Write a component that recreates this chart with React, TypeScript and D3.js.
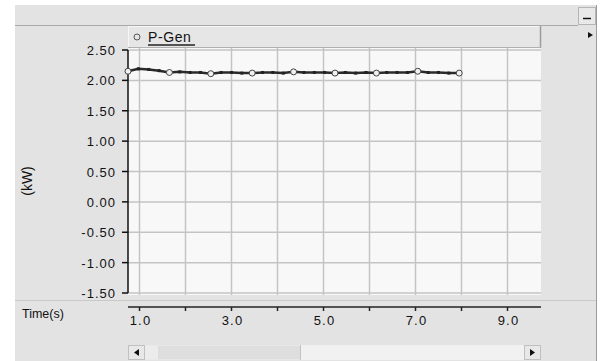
import * as d3 from 'd3';

// sampled P-Gen output (kW) against time (s)
const timeS = [
  0.75, 0.975, 1.2, 1.425, 1.65, 1.875, 2.1, 2.325, 2.55, 2.775, 3.0,
  3.225, 3.45, 3.675, 3.9, 4.125, 4.35, 4.575, 4.8, 5.025, 5.25, 5.475,
  5.7, 5.925, 6.15, 6.375, 6.6, 6.825, 7.05, 7.275, 7.5, 7.725, 7.95,
];
const pGen = [
  2.15, 2.19, 2.18, 2.16, 2.13, 2.14, 2.13, 2.13, 2.11, 2.13, 2.13,
  2.12, 2.12, 2.13, 2.13, 2.12, 2.14, 2.13, 2.13, 2.13, 2.12, 2.13,
  2.12, 2.13, 2.12, 2.13, 2.13, 2.13, 2.15, 2.13, 2.13, 2.12, 2.12,
];
const yTicks = [-1.5, -1.0, -0.5, 0, 0.5, 1.0, 1.5, 2.0, 2.5];
const xTicks = [1, 2, 3, 4, 5, 6, 7, 8, 9];
const xLabels = [1, 3, 5, 7, 9];
const seriesName = 'P-Gen';

const FONT = '"Liberation Sans", Arial, sans-serif';
// plain hyphen for negatives, like the original readout
const fmt = (spec: string) => (v: number) => d3.format(spec)(v).replace('\u2212', '-');

export default function App() {
  const plot = { left: 128, right: 541, top: 48, bottom: 295 };

  const x = d3.scaleLinear().domain([0.75, 9.75]).range([plot.left, plot.left + 414]);
  const y = d3.scaleLinear().domain([-1.5, 2.5]).range([293, 50]);

  const pts = timeS.map((t, i) => [t, pGen[i]] as [number, number]);
  const line = d3
    .line<[number, number]>()
    .x((d) => x(d[0]))
    .y((d) => y(d[1]));

  const axisY = 307;

  return (
    <svg
      width={600}
      height={361}
      style={{ position: 'absolute', left: 0, top: 0, fontFamily: FONT }}
    >
      <rect x={0} y={0} width={600} height={361} fill="#ffffff" />
      {/* panel */}
      <rect x={15} y={5} width={582} height={356} fill="#e3e3e3" />
      <line x1={596.5} x2={596.5} y1={5} y2={361} stroke="#9a9a9a" />
      <line x1={15} x2={578} y1={25.5} y2={25.5} stroke="#a9a9a9" />
      {/* minimize button */}
      <rect x={578.5} y={7.5} width={17} height={17} fill="#e9e9e9" stroke="#b5b5b5" />
      <line x1={583} x2={591} y1={18.5} y2={18.5} stroke="#111" strokeWidth={1.5} />
      <path d="M588,32 L593,35 L588,38 Z" fill="#111" />

      {/* plot background */}
      <rect
        x={plot.left}
        y={plot.top}
        width={plot.right - plot.left}
        height={plot.bottom - plot.top}
        fill="#f8f8f8"
      />
      {yTicks.map((v) => (
        <line
          key={'gy' + v}
          x1={plot.left}
          x2={plot.right}
          y1={y(v)}
          y2={y(v)}
          stroke="#c4c4c4"
          strokeWidth={1.5}
        />
      ))}
      {xTicks.map((v) => (
        <line
          key={'gx' + v}
          x1={x(v)}
          x2={x(v)}
          y1={plot.top}
          y2={plot.bottom}
          stroke="#c4c4c4"
          strokeWidth={1.5}
        />
      ))}
      <line x1={15} x2={596} y1={300.5} y2={300.5} stroke="#c9c9c9" />

      {/* legend bar */}
      <rect x={128} y={26} width={413} height={21} fill="#e6e6e6" />
      <line x1={128} x2={541} y1={26.5} y2={26.5} stroke="#f6f6f6" />
      <line x1={128.5} x2={128.5} y1={26} y2={47} stroke="#f6f6f6" />
      <line x1={540.5} x2={540.5} y1={26} y2={48} stroke="#9c9c9c" strokeWidth={1.5} />
      <line x1={128} x2={541} y1={47.5} y2={47.5} stroke="#b0b0b0" />
      <circle cx={137} cy={37} r={3} fill="none" stroke="#555" strokeWidth={1} />
      <text x={148} y={42} fontSize={14} fill="#111" letterSpacing={0.6}>
        {seriesName}
      </text>
      <line x1={148} x2={195} y1={45} y2={45} stroke="#222" strokeWidth={1.5} />

      {/* y axis */}
      <line x1={128} x2={128} y1={y(2.5)} y2={y(-1.5)} stroke="#111" strokeWidth={1.5} />
      {yTicks.map((v) => (
        <g key={'ty' + v}>
          <line x1={122} x2={128} y1={y(v)} y2={y(v)} stroke="#111" strokeWidth={1.5} />
          <text
            x={116}
            y={y(v) + 5}
            textAnchor="end"
            fontSize={13}
            letterSpacing={1}
            fill="#111"
          >
            {fmt('.2f')(v)}
          </text>
        </g>
      ))}
      <text
        transform="translate(32,181) rotate(-90)"
        textAnchor="middle"
        fontSize={14}
        fill="#111"
      >
        (kW)
      </text>

      {/* x axis */}
      <line x1={plot.left} x2={plot.right} y1={axisY} y2={axisY} stroke="#222" strokeWidth={1.5} />
      {xTicks.map((v) => (
        <line key={'tx' + v} x1={x(v)} x2={x(v)} y1={axisY} y2={axisY + 4} stroke="#222" strokeWidth={1.5} />
      ))}
      {xLabels.map((v) => (
        <text
          key={'lx' + v}
          x={x(v) + 1}
          y={325}
          textAnchor="middle"
          fontSize={13}
          letterSpacing={1.2}
          fill="#111"
        >
          {fmt('.1f')(v)}
        </text>
      ))}
      <text x={22} y={318} fontSize={12.5} fill="#111">
        Time(s)
      </text>

      {/* series */}
      <path d={line(pts) ?? ''} fill="none" stroke="#2a2a2a" strokeWidth={2.5} />
      {pts.map((p, i) =>
        i % 4 === 0 ? (
          <circle
            key={'m' + i}
            cx={x(p[0])}
            cy={y(p[1])}
            r={3}
            fill="#f0f0f0"
            stroke="#444"
            strokeWidth={1}
          />
        ) : (
          <rect
            key={'m' + i}
            x={x(p[0]) - 1.5}
            y={y(p[1]) - 1.5}
            width={3}
            height={3}
            fill="#222"
          />
        )
      )}

      {/* scrollbar */}
      <rect x={128} y={345} width={413} height={15} fill="#f1f1f1" />
      <rect x={145} y={345.5} width={155} height={14} fill="#dedede" />
      <rect x={145} y={345.5} width={13} height={14} fill="#ececec" />
      <line x1={300.5} x2={300.5} y1={345} y2={360} stroke="#c2c2c2" />
      <rect x={128.5} y={345.5} width={16} height={14} fill="#e8e8e8" stroke="#c0c0c0" />
      <path d="M134,352.5 L139,349 L139,356 Z" fill="#111" />
      <rect x={524.5} y={345.5} width={16} height={14} fill="#e8e8e8" stroke="#c0c0c0" />
      <path d="M530,349 L535,352.5 L530,356 Z" fill="#111" />
    </svg>
  );
}
